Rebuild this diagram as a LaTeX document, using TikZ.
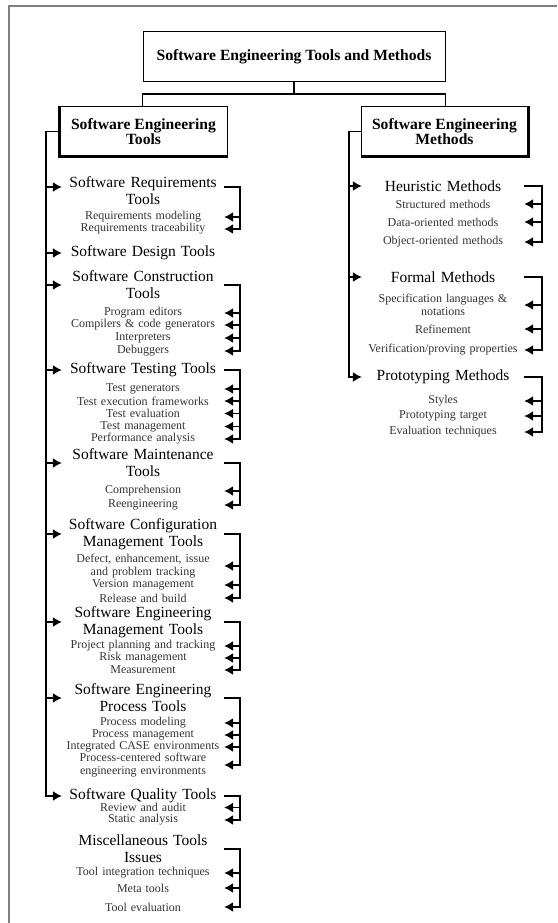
\documentclass[tikz,border=0pt]{standalone}
\usepackage{fontspec}
\setmainfont{Liberation Serif}
\usetikzlibrary{arrows.meta}

\begin{document}
\begin{tikzpicture}[x=1pt,y=-1pt,
  box/.style={draw, line width=1pt, align=center, inner sep=0pt,
    font=\fontsize{15.6}{15}\selectfont\bfseries},
  head/.style={text width=162pt, align=center, inner sep=0pt,
    font=\fontsize{15.5}{17}\selectfont},
  item/.style={text width=162pt, align=center, inner sep=0pt, text=black!80,
    font=\fontsize{12}{12.6}\selectfont},
  link/.style={line width=1.3pt, line join=miter},
  arr/.style={line width=1.4pt, line join=miter, -{Latex[length=9pt,width=10pt]}},
  shadowline/.style={line width=2.6pt, line join=miter},
]
\useasboundingbox (0,0) rectangle (557,923);

% page frame
\draw[gray, line width=1.2pt] (9,923) -- (9,6) -- (557,6);

% top of the hierarchy
\node[box, minimum width=302pt, minimum height=50pt] (top) at (294,57)
  {Software Engineering Tools and Methods};
\node[box, minimum width=167pt, minimum height=49pt] (lbox) at (143.5,131.5)
  {Software Engineering\\Tools};
\node[box, minimum width=167pt, minimum height=49pt] (rbox) at (444.5,131.5)
  {Software Engineering\\Methods};
\draw[shadowline] (lbox.north west) -- (lbox.south west) -- (lbox.south east);
\draw[shadowline] (rbox.north east) -- (rbox.south east) -- (rbox.south west);

\coordinate (split) at (294,94);
\draw[line width=2pt] (top.south) -- (split);
\draw[link] (lbox.north -| top.west) |- (split) -| (rbox.north -| top.east);

% ---------------- tools column ----------------
\node[head] (req) at (143,191) {Software Requirements\\Tools};
\node[item] (req1) at (143,217) {Requirements modeling};
\node[item] (req2) at (143,229) {Requirements traceability};

\node[head] (des) at (143,253) {Software Design Tools};

\node[head] (con) at (143,285) {Software Construction\\Tools};
\node[item] (con1) at (143,313) {Program editors};
\node[item] (con2) at (143,325) {Compilers \& code generators};
\node[item] (con3) at (143,338) {Interpreters};
\node[item] (con4) at (143,351) {Debuggers};

\node[head] (tst) at (143,370) {Software Testing Tools};
\node[item] (tst1) at (143,389) {Test generators};
\node[item] (tst2) at (143,401) {Test execution frameworks};
\node[item] (tst3) at (143,413.5) {Test evaluation};
\node[item] (tst4) at (143,426.5) {Test management};
\node[item] (tst5) at (143,439) {Performance analysis};

\node[head] (mnt) at (143,463) {Software Maintenance\\Tools};
\node[item] (mnt1) at (143,491) {Comprehension};
\node[item] (mnt2) at (143,505) {Reengineering};

\node[head] (cfg) at (143,534) {Software Configuration\\Management Tools};
\node[item] (cfg1) at (143,566) {Defect, enhancement, issue\\and problem tracking};
\node[item] (cfg2) at (143,585) {Version management};
\node[item] (cfg3) at (143,598) {Release and build};

\node[head] (mgt) at (143,622) {Software Engineering\\Management Tools};
\node[item] (mgt1) at (143,646) {Project planning and tracking};
\node[item] (mgt2) at (143,658) {Risk management};
\node[item] (mgt3) at (143,670) {Measurement};

\node[head] (prc) at (143,698) {Software Engineering\\Process Tools};
\node[item] (prc1) at (143,723) {Process modeling};
\node[item] (prc2) at (143,735) {Process management};
\node[item] (prc3) at (143,747) {Integrated CASE environments};
\node[item] (prc4) at (143,765) {Process-centered software\\engineering environments};

\node[head] (qlt) at (143,796) {Software Quality Tools};
\node[item] (qlt1) at (143,807.5) {Review and audit};
\node[item] (qlt2) at (143,820) {Static analysis};

\node[head] (msc) at (143,849) {Miscellaneous Tools\\Issues};
\node[item] (msc1) at (143,873) {Tool integration techniques};
\node[item] (msc2) at (143,888) {Meta tools};
\node[item] (msc3) at (143,907) {Tool evaluation};

% trunk and brackets of the tools column
\coordinate (ltr) at (46,131.5);
\coordinate (lbr) at (240,131.5);
\coordinate (req-w) at ([yshift=4pt]req.west);
\coordinate (req-e) at ([yshift=4pt]req.east);

\draw[arr] (lbox.west) -| (ltr |- qlt.west) -- (qlt.west);
\draw[arr] (ltr |- req-w) -- (req-w);
\foreach \h in {des,con,tst,mnt,cfg,mgt,prc}
  \draw[arr] (ltr |- \h.west) -- (\h.west);

\draw[arr] (req-e) -| (lbr |- req2.east) -- (req2.east);
\draw[arr] (lbr |- req1.east) -- (req1.east);

\draw[arr] (con.east) -| (lbr |- con4.east) -- (con4.east);
\foreach \s in {con1,con2,con3} \draw[arr] (lbr |- \s.east) -- (\s.east);

\draw[arr] (tst.east) -| (lbr |- tst5.east) -- (tst5.east);
\foreach \s in {tst1,tst2,tst3,tst4} \draw[arr] (lbr |- \s.east) -- (\s.east);

\draw[arr] (mnt.east) -| (lbr |- mnt2.east) -- (mnt2.east);
\draw[arr] (lbr |- mnt1.east) -- (mnt1.east);

\draw[arr] (cfg.east) -| (lbr |- cfg3.east) -- (cfg3.east);
\foreach \s in {cfg1,cfg2} \draw[arr] (lbr |- \s.east) -- (\s.east);

\draw[arr] (mgt.east) -| (lbr |- mgt3.east) -- (mgt3.east);
\foreach \s in {mgt1,mgt2} \draw[arr] (lbr |- \s.east) -- (\s.east);

\draw[arr] (prc.east) -| (lbr |- prc4.east) -- (prc4.east);
\foreach \s in {prc1,prc2,prc3} \draw[arr] (lbr |- \s.east) -- (\s.east);

\draw[arr] (qlt.east) -| (lbr |- qlt2.east) -- (qlt2.east);
\draw[arr] (lbr |- qlt1.east) -- (qlt1.east);

\draw[arr] (msc.east) -| (lbr |- msc3.east) -- (msc3.east);
\foreach \s in {msc1,msc2} \draw[arr] (lbr |- \s.east) -- (\s.east);

% ---------------- methods column ----------------
\node[head] (heu) at (443,186) {Heuristic Methods};
\node[item] (heu1) at (443,204) {Structured methods};
\node[item] (heu2) at (443,222) {Data-oriented methods};
\node[item] (heu3) at (443,242) {Object-oriented methods};

\node[head] (frm) at (443,277) {Formal Methods};
\node[item] (frm1) at (443,305) {Specification languages \&\\notations};
\node[item] (frm2) at (443,329) {Refinement};
\node[item] (frm3) at (443,350) {Verification/proving properties};

\node[head] (pro) at (443,377) {Prototyping Methods};
\node[item] (pro1) at (443,401) {Styles};
\node[item] (pro2) at (443,416) {Prototyping target};
\node[item] (pro3) at (443,432) {Evaluation techniques};

\coordinate (rtr) at (349,131.5);
\coordinate (rbr) at (542,131.5);

\draw[arr] (rbox.west) -| (rtr |- pro.west) -- (pro.west);
\foreach \h in {heu,frm} \draw[arr] (rtr |- \h.west) -- (\h.west);

\draw[arr] (heu.east) -| (rbr |- heu3.east) -- (heu3.east);
\foreach \s in {heu1,heu2} \draw[arr] (rbr |- \s.east) -- (\s.east);

\draw[arr] (frm.east) -| (rbr |- frm3.east) -- (frm3.east);
\foreach \s in {frm1,frm2} \draw[arr] (rbr |- \s.east) -- (\s.east);

\draw[arr] (pro.east) -| (rbr |- pro3.east) -- (pro3.east);
\foreach \s in {pro1,pro2} \draw[arr] (rbr |- \s.east) -- (\s.east);
\end{tikzpicture}
\end{document}
